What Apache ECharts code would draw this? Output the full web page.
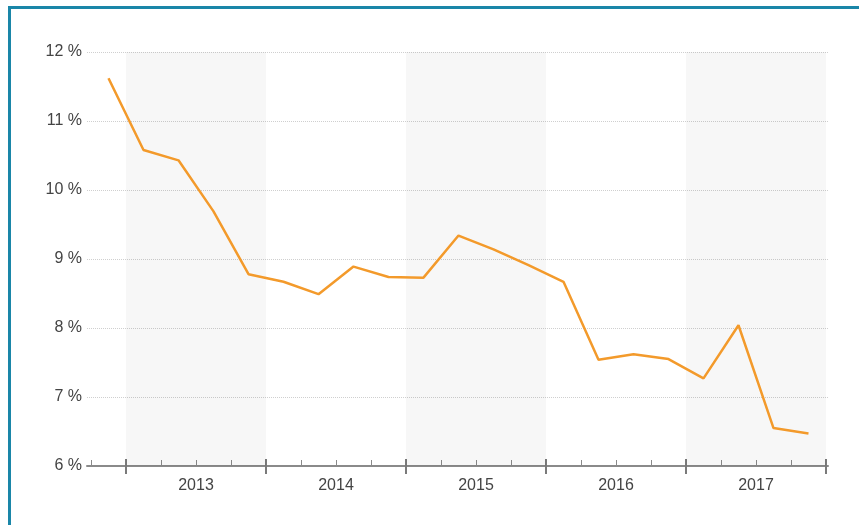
<!DOCTYPE html>
<html>
<head>
<meta charset="utf-8">
<script src="https://cdn.jsdelivr.net/npm/echarts@6/dist/echarts.min.js"></script>
<style>
  html, body { margin: 0; padding: 0; background: #fff; }
  #frame {
    position: absolute; left: 8px; top: 6px; width: 860px; height: 530px;
    border-top: 3px solid #1a86a8; border-left: 3px solid #1a86a8;
  }
  #chart { position: absolute; left: 0; top: 0; width: 859px; height: 525px; }
</style>
</head>
<body>
<div id="frame"></div>
<div id="chart"></div>
<script>
// quarterly values, Q4 2012 .. Q4 2017
const quarters = [
  'Q4 2012',
  'Q1 2013', 'Q2 2013', 'Q3 2013', 'Q4 2013',
  'Q1 2014', 'Q2 2014', 'Q3 2014', 'Q4 2014',
  'Q1 2015', 'Q2 2015', 'Q3 2015', 'Q4 2015',
  'Q1 2016', 'Q2 2016', 'Q3 2016', 'Q4 2016',
  'Q1 2017', 'Q2 2017', 'Q3 2017', 'Q4 2017'
];
const rates = [
  11.62,
  10.58, 10.43, 9.69, 8.78,
  8.67, 8.49, 8.89, 8.74,
  8.73, 9.34, 9.14, 8.91,
  8.67, 7.54, 7.62, 7.55,
  7.27, 8.04, 6.55, 6.47
];
const years = ['2013', '2014', '2015', '2016', '2017'];
const shadedYears = ['2013', '2015', '2017'];
const yTicks = [6, 7, 8, 9, 10, 11, 12];

// x positions: one unit per quarter, year boundaries every 4 units starting at 1
const yearStart = y => 1 + years.indexOf(y) * 4;
const points = rates.map((v, i) => [i + 0.5, v]);
const allTicks = quarters.map((q, i) => i).concat([quarters.length]);
const yearTicks = years.map(yearStart).concat([yearStart(years[years.length - 1]) + 4]);
const labelPos = years.map(y => yearStart(y) + 2);

const baseX = {
  type: 'value',
  position: 'bottom',
  min: -4 / 35,
  max: 21 + 2 / 35,
  splitLine: { show: false },
  axisLabel: { show: false }
};

const chart = echarts.init(document.getElementById('chart'));
chart.setOption({
  animation: false,
  textStyle: { fontFamily: 'Liberation Sans, Arial, sans-serif' },
  grid: { left: 87, right: 31, top: 52, bottom: 59 },
  xAxis: [
    Object.assign({}, baseX, {
      axisLine: { show: true, lineStyle: { color: '#8a8a8a', width: 2 } },
      axisTick: {
        show: true, inside: true, length: 6, customValues: allTicks,
        lineStyle: { color: '#8a8a8a', width: 1 }
      },
      axisLabel: {
        show: true, customValues: labelPos, margin: 12,
        fontSize: 16, color: '#444',
        formatter: v => years[Math.round((v - 3) / 4)]
      }
    }),
    Object.assign({}, baseX, {
      axisLine: { show: false },
      axisTick: {
        show: true, inside: true, length: 7, customValues: yearTicks,
        lineStyle: { color: '#7a7a7a', width: 2 }
      }
    }),
    Object.assign({}, baseX, {
      axisLine: { show: false },
      axisTick: {
        show: true, inside: false, length: 8, customValues: yearTicks,
        lineStyle: { color: '#7a7a7a', width: 2 }
      }
    })
  ],
  yAxis: {
    type: 'value',
    min: yTicks[0],
    max: yTicks[yTicks.length - 1],
    interval: 1,
    axisLine: { show: false },
    axisTick: { show: false },
    axisLabel: { fontSize: 16, color: '#444', margin: 5, formatter: '{value} %' },
    splitLine: { lineStyle: { color: '#cfcfcf', type: [1, 1], width: 1 } }
  },
  series: [{
    type: 'line',
    data: points,
    showSymbol: false,
    lineStyle: { color: '#f39a2b', width: 2.5 },
    markArea: {
      silent: true,
      itemStyle: { color: 'rgba(0,0,0,0.03)' },
      data: shadedYears.map(y => [{ xAxis: yearStart(y) }, { xAxis: yearStart(y) + 4 }])
    }
  }]
});
</script>
</body>
</html>
